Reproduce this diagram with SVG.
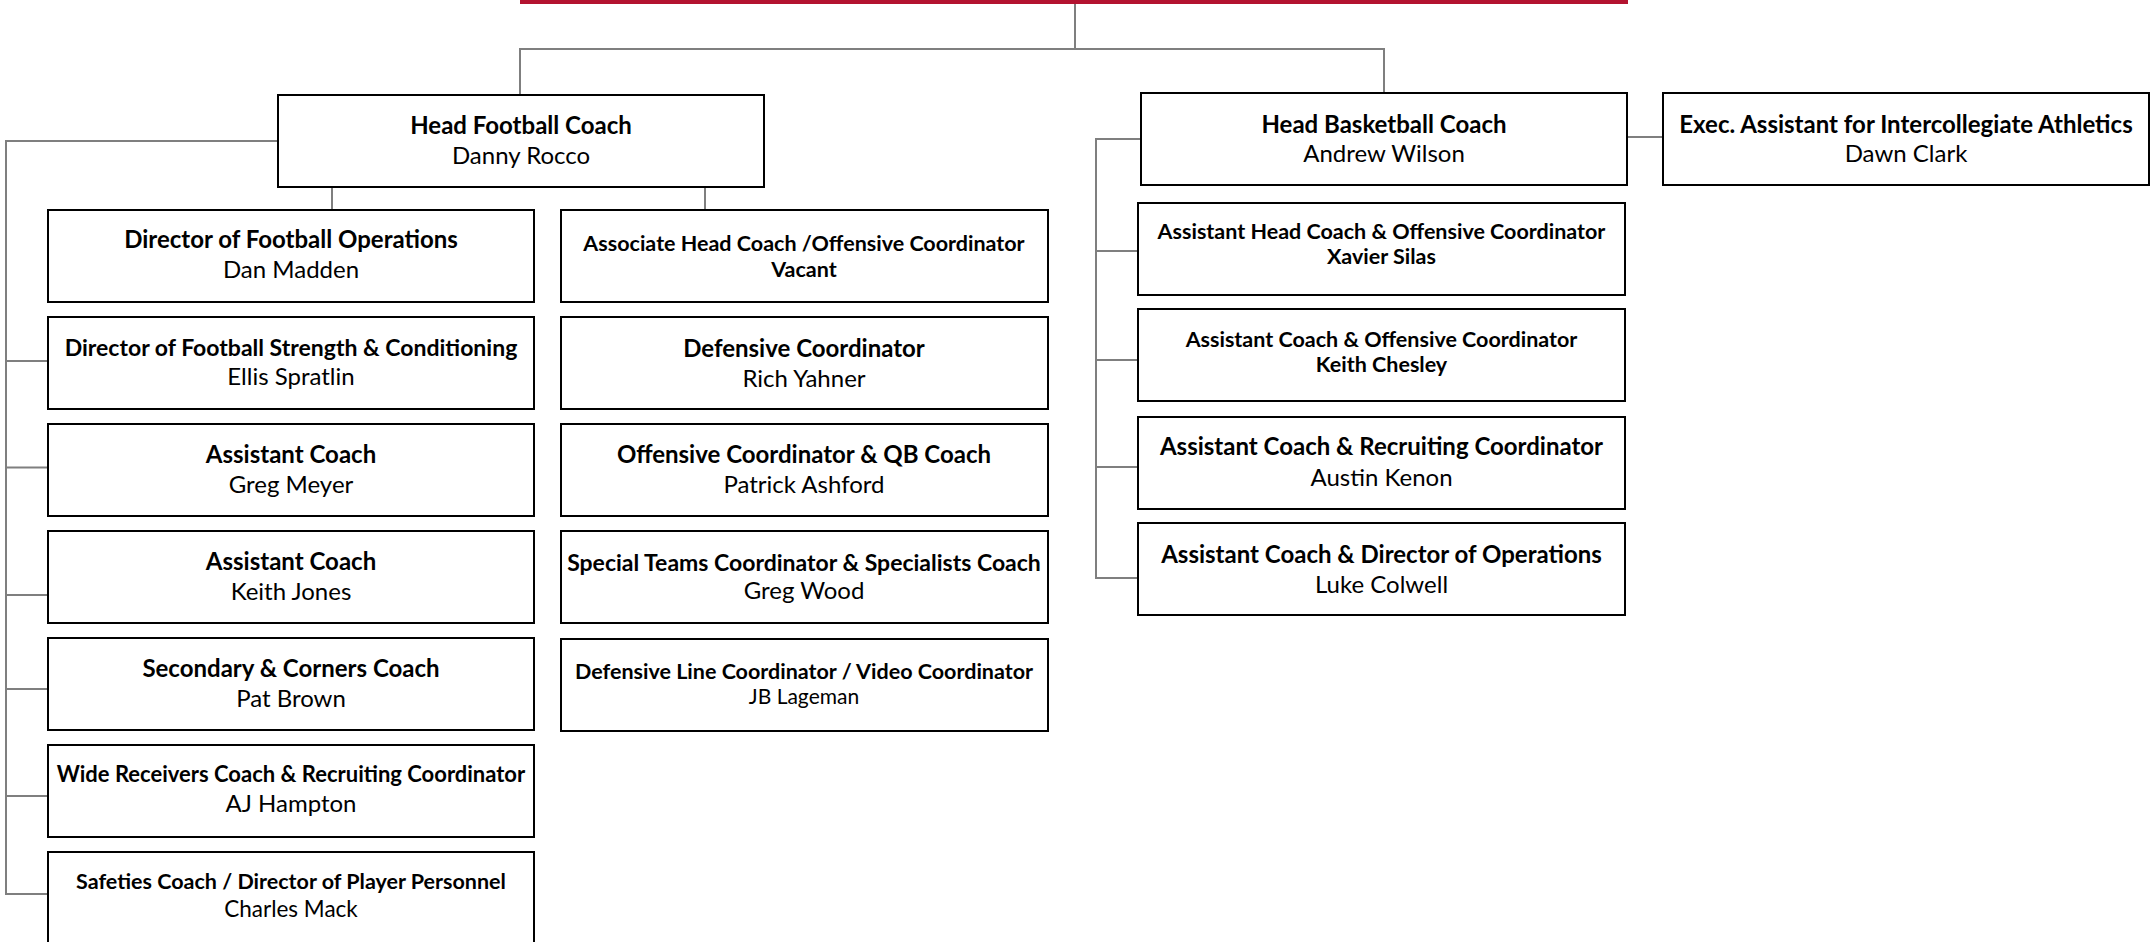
<svg xmlns="http://www.w3.org/2000/svg" width="2156" height="942" viewBox="0 0 2156 942">
<style>
.box{fill:#fff;stroke:#000;stroke-width:2}
.ln{fill:none;stroke:#7f7f7f;stroke-width:2}
text{font-family:Lato,"Noto Sans","Liberation Sans",sans-serif;fill:#000;text-anchor:middle}
.t{font-weight:700;font-size:24px}
.n{font-weight:400;font-size:24px}
.s{font-size:21.5px}
</style>
<rect x="0" y="0" width="2156" height="942" fill="#fff"/>
<rect x="520" y="0" width="1108" height="4" fill="#b31330"/>
<g id="connectors">
<path class="ln" d="M1075 4V49M520 94V49H1384V92"/>
<path class="ln" d="M332 188V209M705 188V209"/>
<path class="ln" d="M277 141H6V894H47M6 361H47M6 467.5H47M6 595H47M6 689H47M6 796H47"/>
<path class="ln" d="M1140 139H1096V578H1138M1096 251H1138M1096 360H1138M1096 467H1138"/>
<path class="ln" d="M1628 137H1662"/>
</g>
<g id="head-football"><rect class="box" x="278" y="95" width="486" height="92"/><text class="t" x="521" y="134">Head Football Coach</text><text class="n" x="521" y="164">Danny Rocco</text></g>
<g id="head-basketball"><rect class="box" x="1141" y="93" width="486" height="92"/><text class="t" x="1384" y="132.7">Head Basketball Coach</text><text class="n" x="1384" y="162.3">Andrew Wilson</text></g>
<g id="exec-assistant"><rect class="box" x="1663" y="93" width="486" height="92"/><text class="t" x="1906" y="132.7">Exec. Assistant for Intercollegiate Athletics</text><text class="n" x="1906" y="162.3">Dawn Clark</text></g>

<g id="fb-ops"><rect class="box" x="48" y="210" width="486" height="92"/><text class="t" x="291" y="248.3">Director of Football Operations</text><text class="n" x="291" y="278.3">Dan Madden</text></g>
<g id="fb-strength"><rect class="box" x="48" y="317" width="486" height="92"/><text class="t" x="291" y="356" style="font-size:23px">Director of Football Strength &amp; Conditioning</text><text class="n" x="291" y="385.3">Ellis Spratlin</text></g>
<g id="fb-meyer"><rect class="box" x="48" y="424" width="486" height="92"/><text class="t" x="291" y="463.3">Assistant Coach</text><text class="n" x="291" y="493.3">Greg Meyer</text></g>
<g id="fb-jones"><rect class="box" x="48" y="531" width="486" height="92"/><text class="t" x="291" y="570">Assistant Coach</text><text class="n" x="291" y="600">Keith Jones</text></g>
<g id="fb-secondary"><rect class="box" x="48" y="638" width="486" height="92"/><text class="t" x="291" y="677.3">Secondary &amp; Corners Coach</text><text class="n" x="291" y="707.3">Pat Brown</text></g>
<g id="fb-wr"><rect class="box" x="48" y="745" width="486" height="92"/><text class="t" x="291" y="781.7" style="font-size:22px">Wide Receivers Coach &amp; Recruiting Coordinator</text><text class="n" x="291" y="811.7">AJ Hampton</text></g>
<g id="fb-safeties"><rect class="box" x="48" y="852" width="486" height="92"/><text class="t s" x="291" y="889">Safeties Coach / Director of Player Personnel</text><text class="n" x="291" y="917.3" style="font-size:22.5px">Charles Mack</text></g>

<g id="fb-assoc"><rect class="box" x="561" y="210" width="487" height="92"/><text class="t s" x="804" y="251">Associate Head Coach /Offensive Coordinator</text><text class="t s" x="804" y="277.3">Vacant</text></g>
<g id="fb-dc"><rect class="box" x="561" y="317" width="487" height="92"/><text class="t" x="804" y="356.7">Defensive Coordinator</text><text class="n" x="804" y="386.7">Rich Yahner</text></g>
<g id="fb-oc"><rect class="box" x="561" y="424" width="487" height="92"/><text class="t" x="804" y="463.3">Offensive Coordinator &amp; QB Coach</text><text class="n" x="804" y="493.3">Patrick Ashford</text></g>
<g id="fb-st"><rect class="box" x="561" y="531" width="487" height="92"/><text class="t" x="804" y="570.7" style="font-size:23px">Special Teams Coordinator &amp; Specialists Coach</text><text class="n" x="804" y="599.3">Greg Wood</text></g>
<g id="fb-dl"><rect class="box" x="561" y="639" width="487" height="92"/><text class="t s" x="804" y="679">Defensive Line Coordinator / Video Coordinator</text><text class="n" x="804" y="704.3" style="font-size:21px">JB Lageman</text></g>

<g id="bb-silas"><rect class="box" x="1138" y="203" width="487" height="92"/><text class="t s" x="1381.5" y="239">Assistant Head Coach &amp; Offensive Coordinator</text><text class="t s" x="1381.5" y="264">Xavier Silas</text></g>
<g id="bb-chesley"><rect class="box" x="1138" y="309" width="487" height="92"/><text class="t s" x="1381.5" y="346.7">Assistant Coach &amp; Offensive Coordinator</text><text class="t s" x="1381.5" y="371.7">Keith Chesley</text></g>
<g id="bb-kenon"><rect class="box" x="1138" y="417" width="487" height="92"/><text class="t" x="1381.5" y="455">Assistant Coach &amp; Recruiting Coordinator</text><text class="n" x="1381.5" y="486">Austin Kenon</text></g>
<g id="bb-colwell"><rect class="box" x="1138" y="523" width="487" height="92"/><text class="t" x="1381.5" y="562.7">Assistant Coach &amp; Director of Operations</text><text class="n" x="1381.5" y="593.3">Luke Colwell</text></g>
</svg>
